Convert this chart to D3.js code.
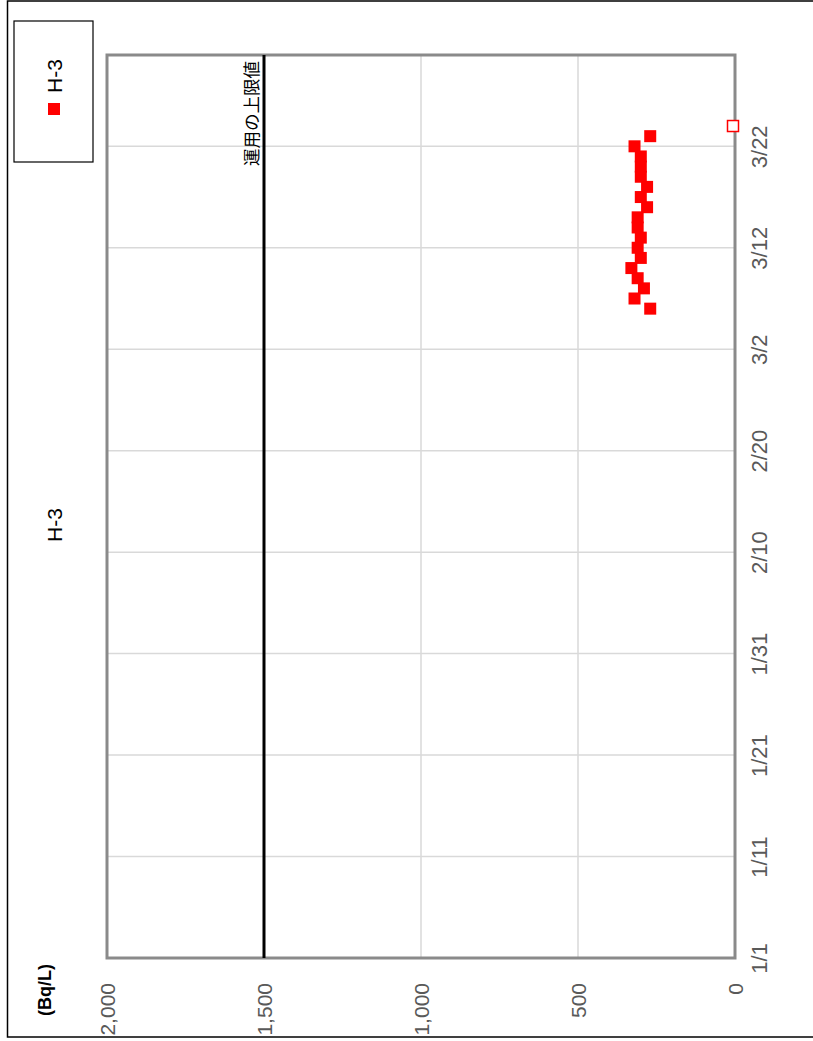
<!DOCTYPE html>
<html>
<head>
<meta charset="utf-8">
<script src="https://cdn.jsdelivr.net/npm/d3@7"></script>
<style>
  html, body { margin: 0; padding: 0; background: #fff; }
  svg { display: block; }
  text { font-family: "Liberation Sans", Arial, sans-serif; }
</style>
</head>
<body>
<svg id="chart" width="813" height="1041"></svg>
<script>
// ---- data ----
const seriesName = "H-3";
const chartTitle = "H-3";
const unitLabel = "(Bq/L)";
const limitLabel = "運用の上限値";
const limitValue = [1500];
const dates = ["2023-03-06","2023-03-07","2023-03-08","2023-03-09","2023-03-10","2023-03-11",
               "2023-03-12","2023-03-13","2023-03-14","2023-03-15","2023-03-16","2023-03-17",
               "2023-03-18","2023-03-19","2023-03-20","2023-03-21","2023-03-22","2023-03-23"];
const values = [270, 320, 290, 310, 330, 300, 310, 300, 310, 310, 280, 300, 280, 300, 300, 300, 320, 270];
const openDates = ["2023-03-24"];
const openValues = [0];
const dateTicks = ["2023-01-01","2023-01-11","2023-01-21","2023-01-31","2023-02-10",
                   "2023-02-20","2023-03-02","2023-03-12","2023-03-22"];
const valueTicks = [0, 500, 1000, 1500, 2000];
const dateDomain = ["2023-01-01","2023-03-31"];
const valueDomain = [0, 2000];

// ---- layout ----
const parse = d3.timeParse("%Y-%m-%d");
const svg = d3.select("#chart");
const plot = { left: 107, right: 735, top: 55, bottom: 958 };

// value axis runs horizontally (0 at right), dates run vertically (bottom -> top)
const v = d3.scaleLinear().domain(valueDomain).range([plot.right, plot.left]);
const t = d3.scaleTime().domain(dateDomain.map(parse)).range([plot.bottom, plot.top]);

// outer border
svg.append("rect").attr("x", 7.5).attr("y", 1).attr("width", 810).attr("height", 1036)
  .attr("fill", "none").attr("stroke", "#000").attr("stroke-width", 1.5);

// gridlines
const grid = svg.append("g");
grid.selectAll("line.vg").data(valueTicks.filter(d => d > 0 && d < 2000)).join("line")
  .attr("x1", d => v(d)).attr("x2", d => v(d))
  .attr("y1", plot.top).attr("y2", plot.bottom)
  .attr("stroke", "#d9d9d9").attr("stroke-width", 1.5);
grid.selectAll("line.hg").data(dateTicks.slice(1)).join("line")
  .attr("x1", plot.left).attr("x2", plot.right)
  .attr("y1", d => t(parse(d))).attr("y2", d => t(parse(d)))
  .attr("stroke", "#d9d9d9").attr("stroke-width", 1.5);

// plot frame
svg.append("rect").attr("x", plot.left).attr("y", plot.top)
  .attr("width", plot.right - plot.left).attr("height", plot.bottom - plot.top)
  .attr("fill", "none").attr("stroke", "#8a8a8a").attr("stroke-width", 3);

// limit line
svg.append("line").datum(limitValue[0])
  .attr("x1", d => v(d)).attr("x2", d => v(d))
  .attr("y1", plot.top).attr("y2", plot.bottom)
  .attr("stroke", "#000").attr("stroke-width", 3);
svg.append("text").datum(limitValue[0])
  .attr("transform", d => `translate(${v(d) - 14},61) rotate(-90)`)
  .attr("text-anchor", "end").attr("dominant-baseline", "central")
  .style("font-family", "'Noto Sans CJK JP', sans-serif")
  .attr("font-size", 17.5).attr("fill", "#000").text(limitLabel);

// date axis (right side)
const dateAxis = d3.axisRight(t).tickValues(dateTicks.map(parse))
  .tickFormat(d3.timeFormat("%-m/%-d")).tickSize(0);
const gd = svg.append("g").attr("transform", `translate(${plot.right},0)`).call(dateAxis);
gd.select(".domain").remove();
gd.selectAll("text")
  .attr("x", null).attr("dy", null)
  .attr("transform", "translate(24,0) rotate(-90)")
  .attr("text-anchor", "middle").attr("dominant-baseline", "central")
  .attr("font-size", 22).attr("fill", "#595959")
  .style("font-family", "'Liberation Sans', Arial, sans-serif");

// value axis (bottom)
const valueAxis = d3.axisBottom(v).tickValues(valueTicks).tickFormat(d3.format(",")).tickSize(0);
const gv = svg.append("g").attr("transform", `translate(0,${plot.bottom})`).call(valueAxis);
gv.select(".domain").remove();
gv.selectAll("text")
  .attr("y", null).attr("dy", null)
  .attr("transform", "translate(0,25) rotate(-90)")
  .attr("text-anchor", "end").attr("dominant-baseline", "central")
  .attr("font-size", 21).attr("fill", "#595959")
  .style("font-family", "'Liberation Sans', Arial, sans-serif");

// data markers
const pts = dates.map((d, i) => ({ date: parse(d), value: values[i] }));
const ms = 12;
svg.append("g").selectAll("rect").data(pts).join("rect")
  .attr("x", d => v(d.value) - ms / 2).attr("y", d => t(d.date) - ms / 2)
  .attr("width", ms).attr("height", ms).attr("fill", "#ff0000");

const opts = openDates.map((d, i) => ({ date: parse(d), value: openValues[i] }));
svg.append("g").selectAll("rect").data(opts).join("rect")
  .attr("x", d => v(d.value) - 2 - 5.5).attr("y", d => t(d.date) - 5.5)
  .attr("width", 11).attr("height", 11)
  .attr("fill", "#fff").attr("stroke", "#ff0000").attr("stroke-width", 1.5);

// title
svg.append("text").attr("transform", "translate(54,525) rotate(-90)")
  .attr("text-anchor", "middle").attr("dominant-baseline", "central")
  .attr("font-size", 21).attr("fill", "#000").text(chartTitle);

// unit label
svg.append("text").attr("transform", "translate(45,990) rotate(-90)")
  .attr("text-anchor", "middle").attr("dominant-baseline", "central")
  .attr("font-size", 18).attr("font-weight", "bold").attr("fill", "#000").text(unitLabel);

// legend
const lg = svg.append("g");
lg.append("rect").attr("x", 14).attr("y", 21).attr("width", 79).attr("height", 141)
  .attr("fill", "#fff").attr("stroke", "#000").attr("stroke-width", 1.2);
lg.append("rect").attr("x", 48).attr("y", 103).attr("width", 12).attr("height", 12).attr("fill", "#ff0000");
lg.append("text").attr("transform", "translate(54,93) rotate(-90)")
  .attr("text-anchor", "start").attr("dominant-baseline", "central")
  .attr("font-size", 21).attr("fill", "#000").text(seriesName);
</script>
</body>
</html>
